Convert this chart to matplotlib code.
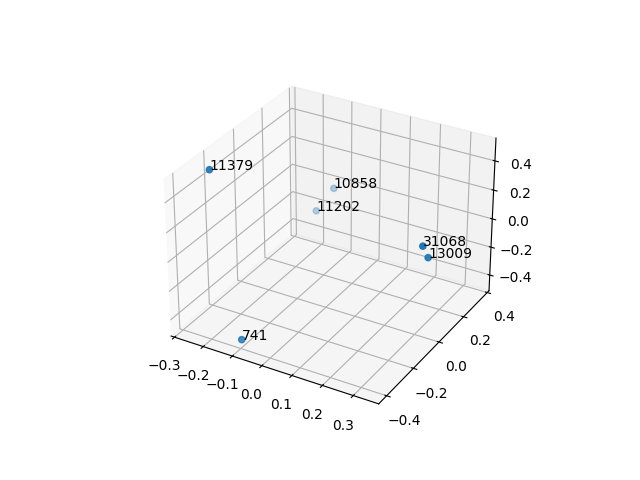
import matplotlib
matplotlib.use("Agg")
import matplotlib.pyplot as plt

labels = ["741", "11379", "10858", "11202", "31068", "13009"]
xs = [-0.095, -0.268, -0.137, -0.172, 0.337, 0.337]
ys = [-0.402, -0.25, 0.36, 0.30, -0.041, 0.003]
zs = [-0.446, 0.486, -0.035, -0.17, 0.157, 0.043]

fig = plt.figure()
ax = fig.add_subplot(projection="3d")
ax.scatter(xs, ys, zs)
for x, y, z, t in zip(xs, ys, zs, labels):
    ax.text(x, y, z, t)
fig.savefig("out.png")
